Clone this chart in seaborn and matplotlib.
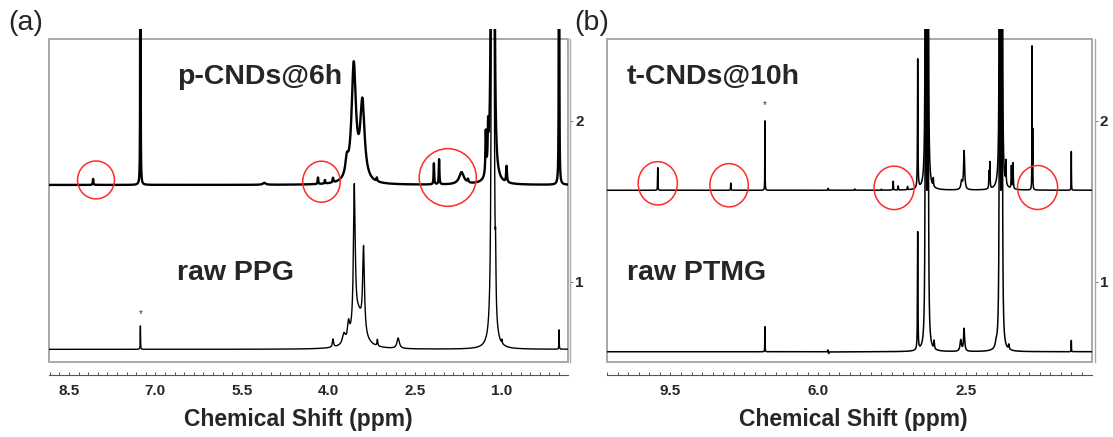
import numpy as np
import pandas as pd
import matplotlib
matplotlib.use("Agg")
import matplotlib.pyplot as plt
import matplotlib.transforms as mtransforms
from matplotlib.patches import Ellipse, Rectangle
from matplotlib.ticker import FixedLocator, FormatStrFormatter
import seaborn as sns

# ---------------- panel (a): PPG in CDCl3 ----------------
# peak tables: chemical shift (ppm), intensity (stack units), half width (ppm)
ppg_cnd_shift  = [8.08, 7.26, 5.11, 4.18, 4.06, 3.92, 3.68, 3.56, 3.41, 3.16, 2.17, 2.08, 1.69, 1.58, 1.27, 1.23, 1.165, 1.135, 0.91, 0.00]
ppg_cnd_height = [0.037, 10.0, 0.012, 0.040, 0.022, 0.028, 0.10, 0.72, 0.48, 0.022, 0.13, 0.155, 0.075, 0.02, 0.26, 0.24, 20.0, 20.0, 0.10, 10.0]
ppg_cnd_width  = [0.006, 0.0015, 0.03, 0.006, 0.006, 0.008, 0.03, 0.045, 0.045, 0.008, 0.006, 0.006, 0.05, 0.01, 0.008, 0.008, 0.005, 0.005, 0.008, 0.002]

ppg_raw_shift  = [7.26, 3.92, 3.73, 3.65, 3.48, 3.55, 3.39, 3.15, 2.79, 1.16, 1.14, 1.10, 0.99, 0.00]
ppg_raw_height = [0.145, 0.05, 0.06, 0.10, 0.20, 0.88, 0.52, 0.04, 0.065, 20.0, 20.0, 0.3, 0.022, 0.12]
ppg_raw_width  = [0.003, 0.012, 0.03, 0.02, 0.10, 0.018, 0.018, 0.008, 0.025, 0.005, 0.005, 0.006, 0.005, 0.003]

ppg_cnd_base = 1.601
ppg_raw_base = 0.583
ppg_major = [8.5, 7.0, 5.5, 4.0, 2.5, 1.0]
ppg_circles = [8.03, 4.12, 1.93]          # highlighted regions (ppm)
ppg_circle_w = [0.64, 0.65, 0.99]

# ---------------- panel (b): PTMG in CDCl3 ----------------
ptmg_cnd_shift  = [9.80, 8.07, 7.26, 5.76, 5.13, 4.50, 4.22, 4.10, 3.88, 3.64, 3.45, 3.40, 3.27, 2.60, 2.54, 1.95, 1.93, 1.695, 1.645, 1.55, 1.42, 1.38, 0.93, 0.915, 0.00]
ptmg_cnd_height = [0.14, 0.045, 0.43, 0.012, 0.008, 0.006, 0.055, 0.025, 0.02, 0.80, 20.0, 20.0, 0.05, 0.05, 0.24, 0.10, 0.16, 20.0, 20.0, 0.14, 0.14, 0.16, 0.88, 0.35, 0.24]
ptmg_cnd_width  = [0.004, 0.004, 0.003, 0.005, 0.006, 0.006, 0.005, 0.005, 0.006, 0.006, 0.004, 0.004, 0.006, 0.02, 0.015, 0.006, 0.006, 0.004, 0.004, 0.006, 0.006, 0.006, 0.003, 0.003, 0.003]

ptmg_raw_shift  = [7.26, 5.77, 5.75, 3.64, 3.45, 3.40, 3.25, 2.62, 2.54, 1.78, 1.695, 1.645, 1.48, 0.00]
ptmg_raw_height = [0.155, 0.012, -0.012, 0.73, 20.0, 20.0, 0.05, 0.07, 0.14, 0.03, 20.0, 20.0, 0.03, 0.07]
ptmg_raw_width  = [0.003, 0.004, 0.004, 0.006, 0.004, 0.004, 0.008, 0.02, 0.015, 0.02, 0.004, 0.004, 0.01, 0.003]

ptmg_cnd_base = 1.568
ptmg_raw_base = 0.568
ptmg_major = [9.5, 6.0, 2.5]
ptmg_circles = [9.80, 8.11, 4.20, 0.80]
ptmg_circle_w = [0.93, 0.91, 0.95, 0.95]

panel_letters = ["(a)", "(b)"]
trace_names = [("p-CNDs@6h", "raw PPG"), ("t-CNDs@10h", "raw PTMG")]
stack_ticks = [1, 2]


def lorentz_sum(axis, centers, heights, widths):
    c = np.asarray(centers, float)[:, None]
    h = np.asarray(heights, float)[:, None]
    w = np.asarray(widths, float)[:, None]
    return (h * w ** 2 / ((axis[None, :] - c) ** 2 + w ** 2)).sum(axis=0)


sns.set_theme(style="white")
plt.rcParams["font.family"] = ["Liberation Sans", "DejaVu Sans"]

fig = plt.figure(figsize=(11.13, 4.37), dpi=100)
W, H = 1113, 437
ybot, ytop = 0.5046, 2.5666
frame_top = 2.5046

panels = [
    dict(x0=49.3, x1=567.7, xlim=(8.84, -0.15), major=ppg_major, minor_step=1.5 / 9,
         traces=[(ppg_cnd_shift, ppg_cnd_height, ppg_cnd_width, ppg_cnd_base, 1.7),
                 (ppg_raw_shift, ppg_raw_height, ppg_raw_width, ppg_raw_base, 1.0)],
         circles=ppg_circles, circle_w=ppg_circle_w, circle_y=[1.632, 1.621, 1.647],
         circle_h=[0.235, 0.254, 0.357], star=(7.26, 0.80),
         names=trace_names[0], name_x=0.247, label_x=0.48, letter_x=8),
    dict(x0=606.7, x1=1092.0, xlim=(11.01, -0.49), major=ptmg_major, minor_step=0.25,
         traces=[(ptmg_cnd_shift, ptmg_cnd_height, ptmg_cnd_width, ptmg_cnd_base, 1.1),
                 (ptmg_raw_shift, ptmg_raw_height, ptmg_raw_width, ptmg_raw_base, 1.1)],
         circles=ptmg_circles, circle_w=ptmg_circle_w, circle_y=[1.611, 1.599, 1.583, 1.585],
         circle_h=[0.268, 0.268, 0.269, 0.272], star=(7.26, 2.095),
         names=trace_names[1], name_x=0.041, label_x=0.508, letter_x=574.4),
]

for i, p in enumerate(panels):
    ax = fig.add_axes([p["x0"] / W, 1 - 362 / H, (p["x1"] - p["x0"]) / W, (362 - 29) / H])
    lo, hi = min(p["xlim"]), max(p["xlim"])
    ppm = np.linspace(lo, hi, 30000)
    for shift, height, width, base, lw in p["traces"]:
        df = pd.DataFrame({"ppm": ppm, "I": base + lorentz_sum(ppm, shift, height, width)})
        sns.lineplot(data=df, x="ppm", y="I", ax=ax, color="black", lw=lw,
                     estimator=None, sort=False)
    ax.set_xlim(*p["xlim"])
    ax.set_ylim(ybot, ytop)

    # grey frame around the spectra
    blend = mtransforms.blended_transform_factory(ax.transAxes, ax.transData)
    ax.add_patch(Rectangle((0, ybot), 1, frame_top - ybot, transform=blend, fill=False,
                           ec="#a8a8a8", lw=1.4, clip_on=False, zorder=1))

    # highlighted regions
    for cx, cw, cy, ch in zip(p["circles"], p["circle_w"], p["circle_y"], p["circle_h"]):
        ax.add_patch(Ellipse((cx, cy), cw, ch, fill=False, ec="#ff2a2a", lw=1.1, zorder=5))

    ax.text(p["star"][0], p["star"][1], "*", ha="center", va="center", fontsize=7, color="#333333")

    for spine in ("top", "left"):
        ax.spines[spine].set_visible(False)
    ax.spines["bottom"].set_position(("outward", 9.4))
    ax.spines["bottom"].set_color("#555555")
    ax.spines["bottom"].set_linewidth(0.8)
    ax.spines["right"].set_position(("outward", 2))
    ax.spines["right"].set_bounds(ybot, frame_top)
    ax.spines["right"].set_color("#a8a8a8")
    ax.spines["right"].set_linewidth(1.0)

    # labelled ticks plus evenly spaced minor ticks aligned with them
    step = p["minor_step"]
    k0 = int(np.floor((hi - p["major"][0]) / step))
    k1 = int(np.floor((p["major"][0] - lo) / step))
    minors = [p["major"][0] + k * step for k in range(-k1, k0 + 1)]
    ax.xaxis.set_major_locator(FixedLocator(p["major"]))
    ax.xaxis.set_minor_locator(FixedLocator(minors))
    ax.xaxis.set_major_formatter(FormatStrFormatter("%.1f"))
    ax.tick_params(axis="x", which="both", direction="in", length=2.5, width=0.7,
                   color="#555555", bottom=True, top=False, pad=6.5)
    for t in ax.get_xticklabels():
        t.set_fontweight("bold")
        t.set_fontsize(11)

    ax.yaxis.tick_right()
    ax.yaxis.set_major_locator(FixedLocator(stack_ticks))
    ax.yaxis.set_major_formatter(FormatStrFormatter("%d"))
    ax.tick_params(axis="y", which="major", direction="out", length=2.5, width=0.7,
                   color="#777777", right=True, left=False, pad=1)
    for t in ax.get_yticklabels():
        t.set_fontweight("bold")
        t.set_fontsize(11)

    ax.set_ylabel("")
    ax.set_xlabel("Chemical Shift (ppm)", fontsize=16.5, fontweight="bold")
    ax.xaxis.set_label_coords(p["label_x"], -0.174)
    ax.xaxis.label.set_va("center")

    ax.text(p["name_x"], 0.835, p["names"][0], transform=ax.transAxes, fontsize=20.5,
            fontweight="bold", va="baseline", ha="left")
    ax.text(p["name_x"], 0.246, p["names"][1], transform=ax.transAxes, fontsize=20.5,
            fontweight="bold", va="baseline", ha="left")

    fig.text(p["letter_x"] / W, 1 - 23 / H, panel_letters[i], fontsize=20.5,
             va="center", ha="left")

fig.savefig("out.png", dpi=100)
